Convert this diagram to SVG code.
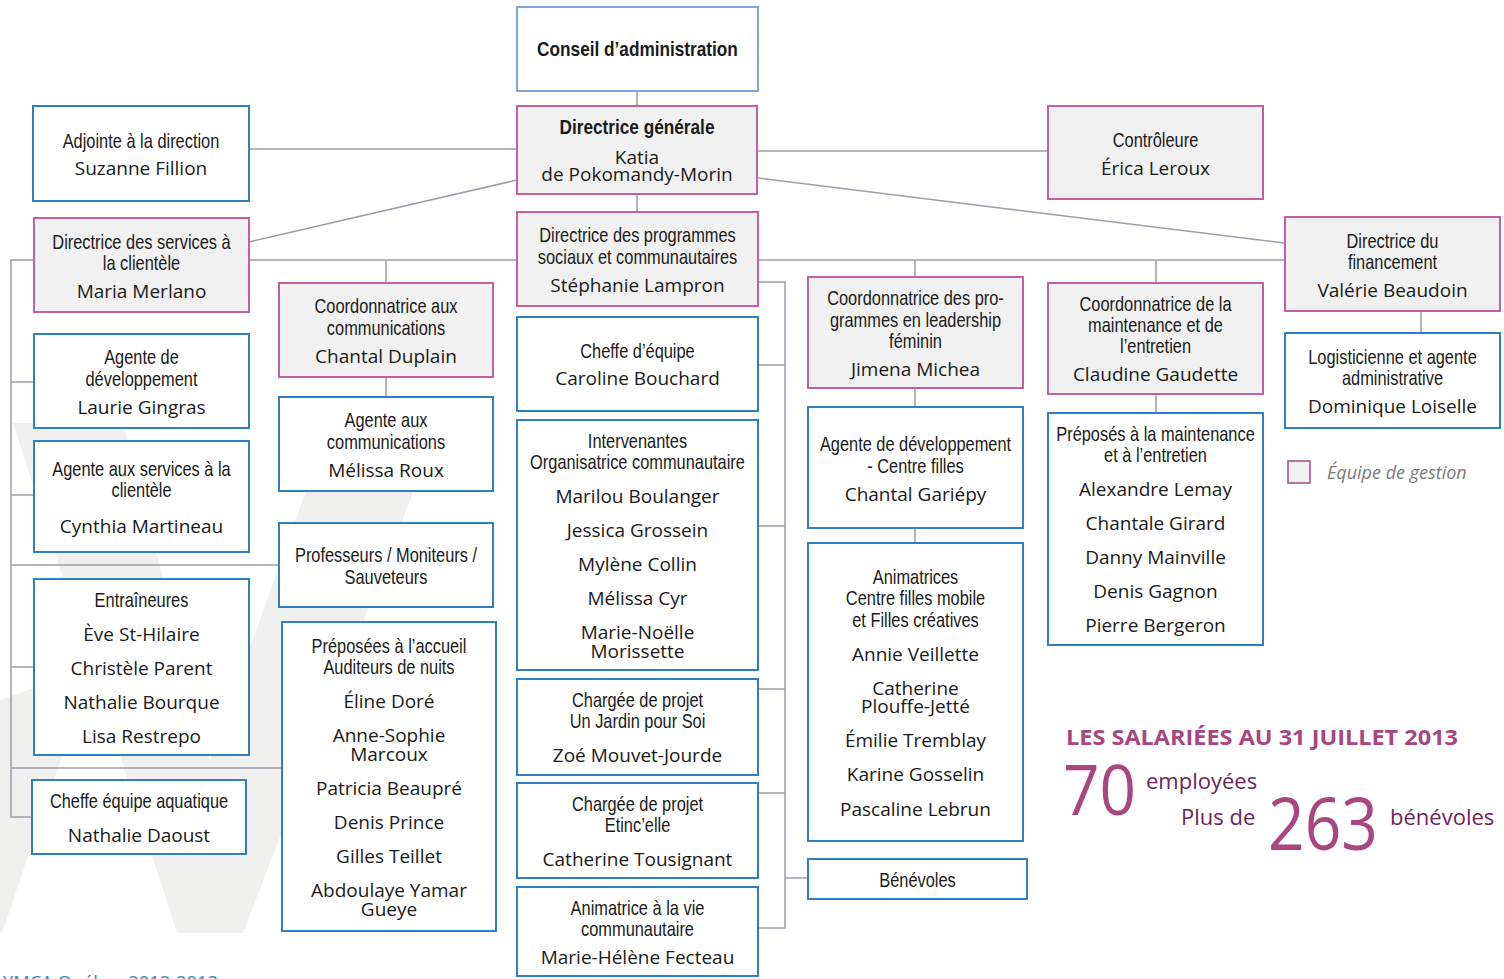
<svg xmlns="http://www.w3.org/2000/svg" width="1504" height="979" viewBox="0 0 1504 979">
<style>
.m{fill:#f1f1f1;stroke:#c4619c;stroke-width:2}
.e{fill:#ffffff;stroke:#2f7fc4;stroke-width:2}
.c{fill:#ffffff;stroke:#7ba7dd;stroke-width:2}
.t{font-family:"Liberation Sans",Arial,sans-serif;font-size:20px;fill:#1a1a1a;text-anchor:middle}
.tb{font-weight:bold;font-size:21px}
.n{font-family:"Open Sans","Noto Sans",sans-serif;font-size:19px;fill:#1a1a1a;text-anchor:middle}
.lk{fill:none;stroke:#9c9cab;stroke-width:1.5}
.st{font-family:"Open Sans","Noto Sans",sans-serif}
</style>
<rect width="1504" height="979" fill="#ffffff"/>
<g id="watermark" fill="#f0f0ef">
<polygon points="13,423 123,423 210,760 330,423 440,423 243,933 177,933"/>
<polygon points="0,700 92,668 2,933 0,933"/>
</g>
<g id="connectors" class="lk">
<path d="M637,91V106"/>
<path d="M517,149H249"/>
<path d="M757,151H1048"/>
<path d="M637,194V212"/>
<path d="M517,180L249,242"/>
<path d="M757,178L1285,243"/>
<path d="M249,260H1285"/>
<path d="M386,260V283"/>
<path d="M915,260V277"/>
<path d="M1156,260V283"/>
<path d="M34,260H11V817H32"/>
<path d="M11,382H34"/>
<path d="M11,495H34"/>
<path d="M11,565H279"/>
<path d="M11,667H34"/>
<path d="M11,768H282"/>
<path d="M386,377V397"/>
<path d="M915,388V407"/>
<path d="M915,528V543"/>
<path d="M1156,394V413"/>
<path d="M1421,311V333"/>
<path d="M758,282H785V928H758"/>
<path d="M758,365H785"/>
<path d="M758,526H785"/>
<path d="M758,689H785"/>
<path d="M758,793H785"/>
<path d="M785,878H808"/>
</g>
<g id="conseil"><rect class="c" x="517" y="7" width="241" height="84"/>
<text class="t tb" transform="translate(637.5,56) scale(0.82,1)">Conseil d’administration</text></g>
<g id="directrice-generale"><rect class="m" x="517" y="106" width="240" height="88"/>
<text class="t tb" transform="translate(637,134) scale(0.82,1)">Directrice générale</text>
<text class="n" x="637" y="164">Katia</text>
<text class="n" x="637" y="181">de Pokomandy-Morin</text></g>
<g id="adjointe"><rect class="e" x="33" y="106" width="216" height="95"/>
<text class="t" transform="translate(141,148) scale(0.82,1)">Adjointe à la direction</text>
<text class="n" x="141" y="175">Suzanne Fillion</text></g>
<g id="controleure"><rect class="m" x="1048" y="106" width="215" height="93"/>
<text class="t" transform="translate(1155.5,147) scale(0.82,1)">Contrôleure</text>
<text class="n" x="1155.5" y="175">Érica Leroux</text></g>
<g id="dir-services"><rect class="m" x="34" y="218" width="215" height="94"/>
<text class="t" transform="translate(141.5,249) scale(0.82,1)">Directrice des services à</text>
<text class="t" transform="translate(141.5,270) scale(0.82,1)">la clientèle</text>
<text class="n" x="141.5" y="298">Maria Merlano</text></g>
<g id="dir-programmes"><rect class="m" x="517" y="212" width="241" height="94"/>
<text class="t" transform="translate(637.5,242) scale(0.82,1)">Directrice des programmes</text>
<text class="t" transform="translate(637.5,264) scale(0.82,1)">sociaux et communautaires</text>
<text class="n" x="637.5" y="292">Stéphanie Lampron</text></g>
<g id="dir-financement"><rect class="m" x="1285" y="217" width="215" height="94"/>
<text class="t" transform="translate(1392.5,248) scale(0.82,1)">Directrice du</text>
<text class="t" transform="translate(1392.5,269) scale(0.82,1)">financement</text>
<text class="n" x="1392.5" y="297">Valérie Beaudoin</text></g>
<g id="coord-comm"><rect class="m" x="279" y="283" width="214" height="94"/>
<text class="t" transform="translate(386,313) scale(0.82,1)">Coordonnatrice aux</text>
<text class="t" transform="translate(386,335) scale(0.82,1)">communications</text>
<text class="n" x="386" y="363">Chantal Duplain</text></g>
<g id="coord-leadership"><rect class="m" x="808" y="277" width="215" height="111"/>
<text class="t" transform="translate(915.5,305) scale(0.82,1)">Coordonnatrice des pro-</text>
<text class="t" transform="translate(915.5,327) scale(0.82,1)">grammes en leadership</text>
<text class="t" transform="translate(915.5,348) scale(0.82,1)">féminin</text>
<text class="n" x="915.5" y="376">Jimena Michea</text></g>
<g id="coord-maintenance"><rect class="m" x="1048" y="283" width="215" height="111"/>
<text class="t" transform="translate(1155.5,311) scale(0.82,1)">Coordonnatrice de la</text>
<text class="t" transform="translate(1155.5,332) scale(0.82,1)">maintenance et de</text>
<text class="t" transform="translate(1155.5,353) scale(0.82,1)">l’entretien</text>
<text class="n" x="1155.5" y="381">Claudine Gaudette</text></g>
<g id="agente-dev"><rect class="e" x="34" y="334" width="215" height="94"/>
<text class="t" transform="translate(141.5,364) scale(0.82,1)">Agente de</text>
<text class="t" transform="translate(141.5,386) scale(0.82,1)">développement</text>
<text class="n" x="141.5" y="414">Laurie Gingras</text></g>
<g id="agente-comm"><rect class="e" x="279" y="397" width="214" height="94"/>
<text class="t" transform="translate(386,427) scale(0.82,1)">Agente aux</text>
<text class="t" transform="translate(386,449) scale(0.82,1)">communications</text>
<text class="n" x="386" y="477">Mélissa Roux</text></g>
<g id="cheffe-equipe"><rect class="e" x="517" y="317" width="241" height="94"/>
<text class="t" transform="translate(637.5,358) scale(0.82,1)">Cheffe d’équipe</text>
<text class="n" x="637.5" y="385">Caroline Bouchard</text></g>
<g id="agente-dev-cf"><rect class="e" x="808" y="407" width="215" height="121"/>
<text class="t" transform="translate(915.5,451) scale(0.82,1)">Agente de développement</text>
<text class="t" transform="translate(915.5,473) scale(0.82,1)">- Centre filles</text>
<text class="n" x="915.5" y="501">Chantal Gariépy</text></g>
<g id="logisticienne"><rect class="e" x="1285" y="333" width="215" height="95"/>
<text class="t" transform="translate(1392.5,364) scale(0.82,1)">Logisticienne et agente</text>
<text class="t" transform="translate(1392.5,385) scale(0.82,1)">administrative</text>
<text class="n" x="1392.5" y="413">Dominique Loiselle</text></g>
<g id="agente-services"><rect class="e" x="34" y="441" width="215" height="111"/>
<text class="t" transform="translate(141.5,476) scale(0.82,1)">Agente aux services à la</text>
<text class="t" transform="translate(141.5,497) scale(0.82,1)">clientèle</text>
<text class="n" x="141.5" y="533">Cynthia Martineau</text></g>
<g id="intervenantes"><rect class="e" x="517" y="420" width="241" height="250"/>
<text class="t" transform="translate(637.5,448) scale(0.82,1)">Intervenantes</text>
<text class="t" transform="translate(637.5,469) scale(0.82,1)">Organisatrice communautaire</text>
<text class="n" x="637.5" y="503">Marilou Boulanger</text>
<text class="n" x="637.5" y="537">Jessica Grossein</text>
<text class="n" x="637.5" y="571">Mylène Collin</text>
<text class="n" x="637.5" y="605">Mélissa Cyr</text>
<text class="n" x="637.5" y="639">Marie-Noëlle</text>
<text class="n" x="637.5" y="658">Morissette</text></g>
<g id="preposes-maintenance"><rect class="e" x="1048" y="413" width="215" height="232"/>
<text class="t" transform="translate(1155.5,441) scale(0.82,1)">Préposés à la maintenance</text>
<text class="t" transform="translate(1155.5,462) scale(0.82,1)">et à l’entretien</text>
<text class="n" x="1155.5" y="496">Alexandre Lemay</text>
<text class="n" x="1155.5" y="530">Chantale Girard</text>
<text class="n" x="1155.5" y="564">Danny Mainville</text>
<text class="n" x="1155.5" y="598">Denis Gagnon</text>
<text class="n" x="1155.5" y="632">Pierre Bergeron</text></g>
<g id="legende"><rect x="1288" y="461" width="22" height="22" fill="#f1f1f1" stroke="#9e4d80" stroke-width="1.5"/>
<text x="1327" y="479" font-family="Open Sans, Noto Sans, sans-serif" font-style="italic" font-size="18" fill="#7a7a7a">Équipe de gestion</text></g>
<g id="professeurs"><rect class="e" x="279" y="523" width="214" height="84"/>
<text class="t" transform="translate(386,562) scale(0.82,1)">Professeurs / Moniteurs /</text>
<text class="t" transform="translate(386,584) scale(0.82,1)">Sauveteurs</text></g>
<g id="entraineures"><rect class="e" x="34" y="579" width="215" height="176"/>
<text class="t" transform="translate(141.5,607) scale(0.82,1)">Entraîneures</text>
<text class="n" x="141.5" y="641">Ève St-Hilaire</text>
<text class="n" x="141.5" y="675">Christèle Parent</text>
<text class="n" x="141.5" y="709">Nathalie Bourque</text>
<text class="n" x="141.5" y="743">Lisa Restrepo</text></g>
<g id="preposees-accueil"><rect class="e" x="282" y="622" width="214" height="309"/>
<text class="t" transform="translate(389,653) scale(0.82,1)">Préposées à l’accueil</text>
<text class="t" transform="translate(389,674) scale(0.82,1)">Auditeurs de nuits</text>
<text class="n" x="389" y="708">Éline Doré</text>
<text class="n" x="389" y="742">Anne-Sophie</text>
<text class="n" x="389" y="761">Marcoux</text>
<text class="n" x="389" y="795">Patricia Beaupré</text>
<text class="n" x="389" y="829">Denis Prince</text>
<text class="n" x="389" y="863">Gilles Teillet</text>
<text class="n" x="389" y="897">Abdoulaye Yamar</text>
<text class="n" x="389" y="916">Gueye</text></g>
<g id="animatrices"><rect class="e" x="808" y="543" width="215" height="298"/>
<text class="t" transform="translate(915.5,584) scale(0.82,1)">Animatrices</text>
<text class="t" transform="translate(915.5,605) scale(0.82,1)">Centre filles mobile</text>
<text class="t" transform="translate(915.5,627) scale(0.82,1)">et Filles créatives</text>
<text class="n" x="915.5" y="661">Annie Veillette</text>
<text class="n" x="915.5" y="695">Catherine</text>
<text class="n" x="915.5" y="713">Plouffe-Jetté</text>
<text class="n" x="915.5" y="747">Émilie Tremblay</text>
<text class="n" x="915.5" y="781">Karine Gosselin</text>
<text class="n" x="915.5" y="816">Pascaline Lebrun</text></g>
<g id="chargee-jardin"><rect class="e" x="517" y="679" width="241" height="96"/>
<text class="t" transform="translate(637.5,707) scale(0.82,1)">Chargée de projet</text>
<text class="t" transform="translate(637.5,728) scale(0.82,1)">Un Jardin pour Soi</text>
<text class="n" x="637.5" y="762">Zoé Mouvet-Jourde</text></g>
<g id="cheffe-aquatique"><rect class="e" x="32" y="780" width="214" height="74"/>
<text class="t" transform="translate(139,808) scale(0.82,1)">Cheffe équipe aquatique</text>
<text class="n" x="139" y="842">Nathalie Daoust</text></g>
<g id="chargee-etincelle"><rect class="e" x="517" y="783" width="241" height="95"/>
<text class="t" transform="translate(637.5,811) scale(0.82,1)">Chargée de projet</text>
<text class="t" transform="translate(637.5,832) scale(0.82,1)">Etinc’elle</text>
<text class="n" x="637.5" y="866">Catherine Tousignant</text></g>
<g id="benevoles"><rect class="e" x="808" y="859" width="219" height="40"/>
<text class="t" transform="translate(917.5,887) scale(0.82,1)">Bénévoles</text></g>
<g id="animatrice-vie"><rect class="e" x="517" y="887" width="241" height="89"/>
<text class="t" transform="translate(637.5,915) scale(0.82,1)">Animatrice à la vie</text>
<text class="t" transform="translate(637.5,936) scale(0.82,1)">communautaire</text>
<text class="n" x="637.5" y="964">Marie-Hélène Fecteau</text></g>
<g id="statistiques" class="st">
<text x="1066" y="745" font-size="22" font-weight="bold" fill="#a8467f" textLength="392" lengthAdjust="spacingAndGlyphs">LES SALARIÉES AU 31 JUILLET 2013</text>
<text x="1063" y="815" font-size="70" fill="#a8467f" textLength="73" lengthAdjust="spacingAndGlyphs">70</text>
<text x="1146" y="789" font-size="22" fill="#6e2358">employées</text>
<text x="1181" y="825" font-size="22" fill="#6e2358">Plus de</text>
<text x="1268" y="850" font-size="74" fill="#a8467f" textLength="110" lengthAdjust="spacingAndGlyphs">263</text>
<text x="1390" y="825" font-size="22" fill="#6e2358">bénévoles</text>
</g>
<text x="3" y="989" font-family="Open Sans, Noto Sans, sans-serif" font-size="18" fill="#2f86c8" textLength="215" lengthAdjust="spacingAndGlyphs">YMCA Québec 2012-2013</text>
</svg>
